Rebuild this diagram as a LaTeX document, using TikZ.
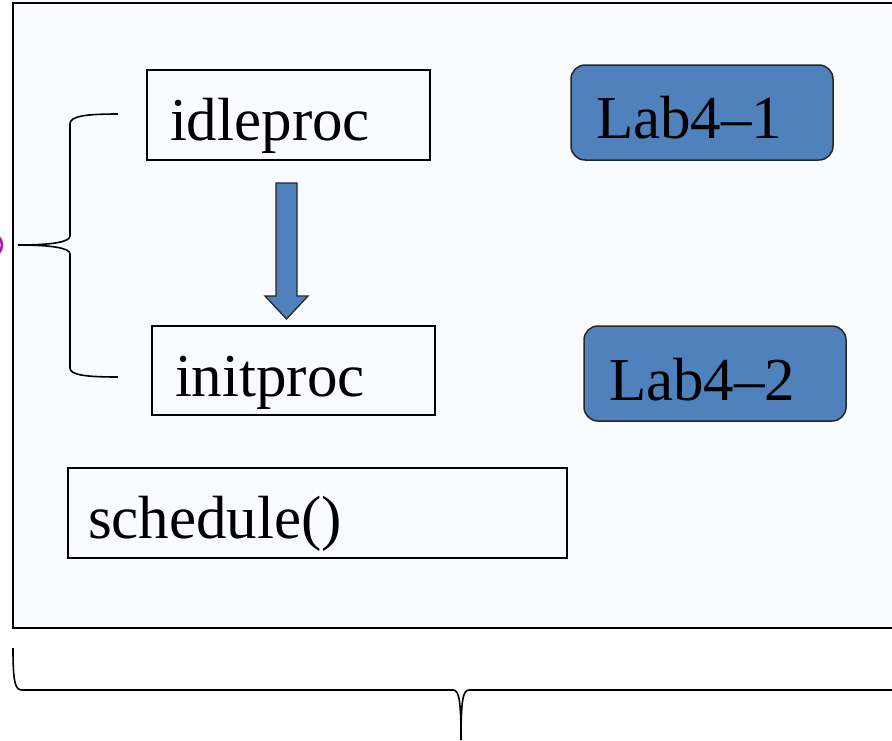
\documentclass[tikz,border=0pt]{standalone}
\usepackage{fontspec}
\setmainfont{Liberation Serif}
\begin{document}
\begin{tikzpicture}[x=1pt,y=-1pt,
  every node/.style={inner sep=0pt, outer sep=0pt},
  bigtext/.style={font=\fontsize{61}{70}\selectfont, anchor=base west},
  plainbox/.style={draw=black, line width=1.5pt, anchor=north west},
  labbox/.style={draw=black!85, fill=labblue, line width=1.5pt, rounded corners=14pt, anchor=north west},
  bracket/.style={draw=black, line width=1.6pt},
]
\definecolor{labblue}{HTML}{4F81BD}
\definecolor{panel}{HTML}{F9FBFE}
\definecolor{ringmag}{HTML}{A0209F}
\useasboundingbox (0,0) rectangle (892,740);
\fill[white] (0,0) rectangle (892,740);

% panel holding the process boxes
\draw[fill=panel, line width=1.2pt] (13,3) rectangle (910,628);

% edge of a ring just outside the panel
\draw[ringmag, line width=2.5pt] (-10,245) circle (12);

% process boxes
\node[plainbox, minimum width=283, minimum height=90] (idle) at (147,70) {};
\node[bigtext] (idletxt) at (170,140) {idleproc};
\node[plainbox, minimum width=283, minimum height=89] (init) at (152,326) {};
\node[bigtext] (inittxt) at (175,396) {initproc};
\node[plainbox, minimum width=499, minimum height=90] (sched) at (68,468) {};
\node[bigtext] (schedtxt) at (88,538) {schedule()};

% lab tags
\node[labbox, minimum width=262, minimum height=95] (lab1) at (571,65) {};
\node[bigtext] (lab1txt) at (596,138) {Lab4--1};
\node[labbox, minimum width=262, minimum height=95] (lab2) at (584,326) {};
\node[bigtext] (lab2txt) at (609,400) {Lab4--2};

% block arrow from idleproc down to initproc
\draw[fill=labblue, draw=black!85, line width=1.3pt, line join=miter]
  (276,183) -- (297,183) -- (297,296) -- (308,296) -- (286.5,319)
  -- (265,296) -- (276,296) -- cycle;

% left curly bracket grouping the two processes
\draw[bracket] (118,114) .. controls (86,114) and (70,116) .. (70,124)
  -- (70,236) .. controls (70,242) and (52,245) .. (18,245)
  .. controls (52,245) and (70,248) .. (70,254)
  -- (70,368) .. controls (70,375) and (86,377) .. (118,377);

% bottom curly bracket under the panel
\draw[bracket] (13,648) .. controls (13,682) and (15,690) .. (22,690)
  -- (453,690) .. controls (459,690) and (461,700) .. (461,740)
  .. controls (461,700) and (463,690) .. (469,690) -- (910,690);
\end{tikzpicture}
\end{document}
